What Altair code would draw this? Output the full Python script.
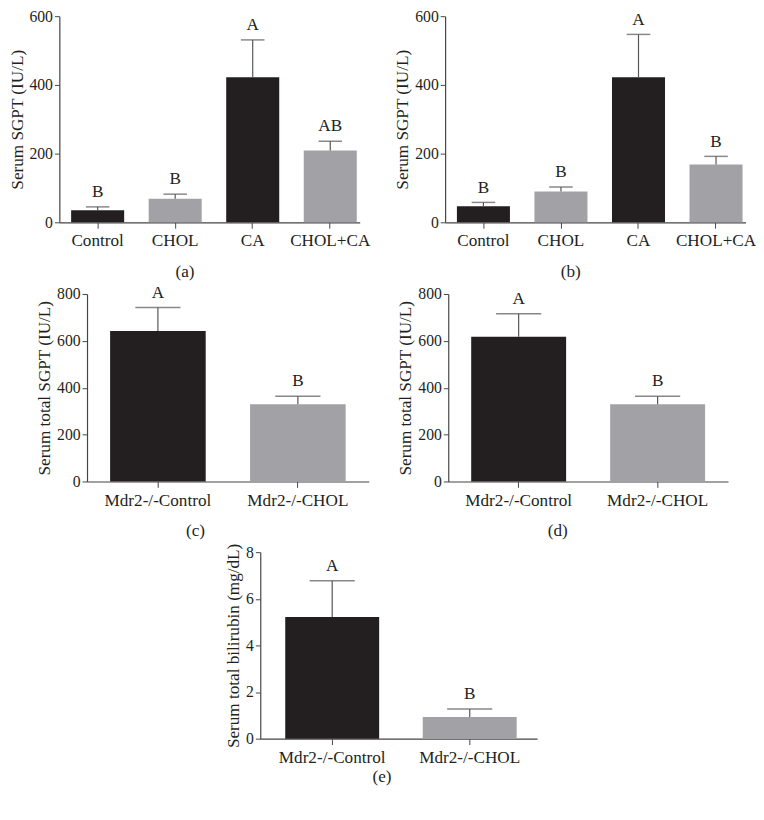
import altair as alt
import pandas as pd

FONT = "Liberation Serif"
BLACK = "#231f20"
GRAY = "#a2a2a6"
AXIS = "#444444"

# Panel (a)
a_cats = ["Control", "CHOL", "CA", "CHOL+CA"]
a_mean = [35, 69, 422, 209]
a_err = [10, 13, 109, 27]
a_letters = ["B", "B", "A", "AB"]

# Panel (b)
b_cats = ["Control", "CHOL", "CA", "CHOL+CA"]
b_mean = [47, 90, 422, 168]
b_err = [11, 13, 125, 24]
b_letters = ["B", "B", "A", "B"]

# Panel (c)
c_cats = ["Mdr2-/-Control", "Mdr2-/-CHOL"]
c_mean = [642, 330]
c_err = [100, 34]
c_letters = ["A", "B"]

# Panel (d)
d_cats = ["Mdr2-/-Control", "Mdr2-/-CHOL"]
d_mean = [618, 330]
d_err = [98, 34]
d_letters = ["A", "B"]

# Panel (e)
e_cats = ["Mdr2-/-Control", "Mdr2-/-CHOL"]
e_mean = [5.22, 0.93]
e_err = [1.55, 0.34]
e_letters = ["A", "B"]

four_colors = [BLACK, GRAY, BLACK, GRAY]
two_colors = [BLACK, GRAY]

FS = 17.5
YFS = 16


def panel(cats, means, errs, letters, colors, ytitle, ymax, yvals, caption,
          width, height, pi, po, align, cap, cap_offset, cap_dx,
          right_pad=False):
    df = pd.DataFrame({
        "cat": cats,
        "mean": means,
        "upper": [m + e for m, e in zip(means, errs)],
        "letter": letters,
        "color": colors,
    })
    xs = alt.X("cat:N", sort=cats)
    x = alt.X("cat:N", sort=cats,
              scale=alt.Scale(paddingInner=pi, paddingOuter=po, align=align),
              axis=alt.Axis(title=None, labelAngle=0, labelFont=FONT,
                            labelFontSize=FS, labelColor=BLACK,
                            domainColor=AXIS, tickColor=AXIS, tickSize=6,
                            labelPadding=4, domainWidth=1.2))
    yscale = alt.Scale(domain=[0, ymax], nice=False)
    base = alt.Chart(df)
    bars = base.mark_bar().encode(
        x=x,
        y=alt.Y("mean:Q", scale=yscale,
                axis=alt.Axis(title=ytitle, values=yvals, grid=False,
                              labelFont=FONT, labelFontSize=YFS,
                              labelColor=BLACK, titleFont=FONT,
                              titleFontSize=FS, titleFontWeight="normal",
                              titleColor=BLACK, domainColor=AXIS,
                              tickColor=AXIS, tickSize=5, labelPadding=2,
                              titlePadding=3, domainWidth=1.2)),
        color=alt.Color("color:N", scale=None),
    )
    rule = base.mark_rule(color="#555555", strokeWidth=1.2).encode(
        x=xs, y="mean:Q", y2="upper:Q")
    capm = base.mark_tick(color="#555555", thickness=1.5, size=cap,
                          orient="horizontal").encode(x=xs, y="upper:Q")
    txt = base.mark_text(font=FONT, fontSize=FS, color=BLACK,
                         baseline="bottom", dy=-6).encode(
        x=xs, y="upper:Q", text="letter:N")
    chart = alt.layer(bars, rule, capm, txt)
    if right_pad:
        pad = base.mark_tick(opacity=0).encode(
            x=xs,
            y=alt.Y("mean:Q", scale=yscale,
                    axis=alt.Axis(orient="right", values=yvals, grid=False,
                                  title=None, ticks=False, domain=False,
                                  labelOpacity=0, labelFont=FONT,
                                  labelFontSize=YFS, labelPadding=10)))
        chart = alt.layer(chart, pad).resolve_axis(y="independent")
    return chart.properties(
        width=width, height=height,
        title=alt.TitleParams(text=caption, orient="bottom", font=FONT,
                              fontSize=FS, fontWeight="normal", color=BLACK,
                              offset=cap_offset, dx=cap_dx),
    )


pa = panel(a_cats, a_mean, a_err, a_letters, four_colors, "Serum SGPT (IU/L)",
           600, [0, 200, 400, 600], "(a)", 306, 210, 0.316, 0.095, 0.8, 24,
           14, -25)
pb = panel(b_cats, b_mean, b_err, b_letters, four_colors, "Serum SGPT (IU/L)",
           600, [0, 200, 400, 600], "(b)", 306, 210, 0.316, 0.095, 0.8, 24,
           14, -25)
pc = panel(c_cats, c_mean, c_err, c_letters, two_colors,
           "Serum total SGPT (IU/L)", 800, [0, 200, 400, 600, 800], "(c)",
           287, 191, 0.317, 0.165, 0.5, 46, 14, -33)
pd_ = panel(d_cats, d_mean, d_err, d_letters, two_colors,
            "Serum total SGPT (IU/L)", 800, [0, 200, 400, 600, 800], "(d)",
            285, 191, 0.317, 0.165, 0.5, 46, 14, -31)
pe = panel(e_cats, e_mean, e_err, e_letters, two_colors,
           "Serum total bilirubin (mg/dL)", 8, [0, 2, 4, 6, 8], "(e)",
           282, 190, 0.317, 0.165, 0.55, 46, 3, -17, right_pad=True)

row1 = alt.hconcat(pa, pb, spacing=24)
row2 = alt.hconcat(pc, pd_, spacing=29)

chart = alt.vconcat(
    row1, row2, pe, spacing=3, center=True,
    padding={"top": -7, "left": 0, "right": 0, "bottom": 0},
).configure_view(stroke=None)

chart.save("out.html", embed_options={"renderer": "svg", "actions": False})
